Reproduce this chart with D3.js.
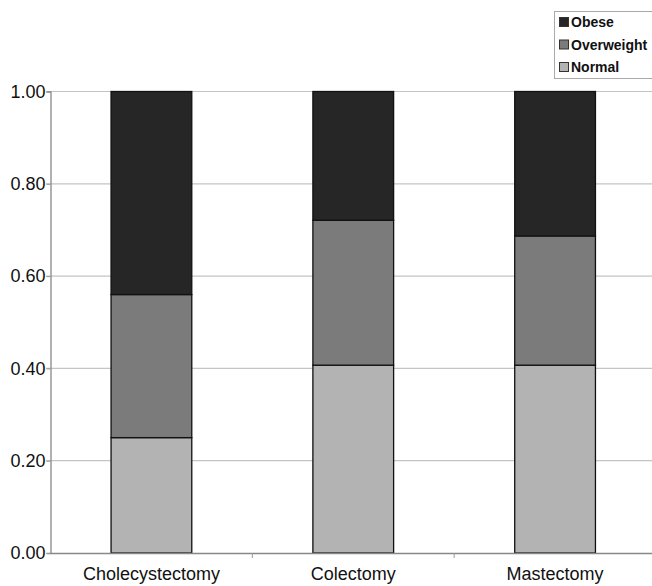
<!DOCTYPE html>
<html><head><meta charset="utf-8">
<script src="https://cdn.jsdelivr.net/npm/d3@7"></script>
<style>body{margin:0;background:#fff}svg{display:block}</style>
</head><body>
<script>
const categories = ["Cholecystectomy","Colectomy","Mastectomy"];
const seriesNames = ["Normal","Overweight","Obese"];
const normal = [0.25, 0.407, 0.407];
const overweight = [0.31, 0.314, 0.28];
const obese = [0.44, 0.279, 0.313];
const yTicks = [0, 0.2, 0.4, 0.6, 0.8, 1.0];
const colors = {Normal:"#b3b3b3", Overweight:"#7b7b7b", Obese:"#262626"};

const W = 652, H = 586;
const svg = d3.select("body").append("svg").attr("width", W).attr("height", H);
const x = d3.scaleBand().domain(categories).range([50.5, 656]).paddingInner(0).paddingOuter(0);
const y = d3.scaleLinear().domain([0, 1]).range([553, 91.5]);

// gridlines
svg.append("g").selectAll("line").data(yTicks.filter(d => d > 0)).join("line")
  .attr("x1", 46).attr("x2", W).attr("y1", d => y(d)).attr("y2", d => y(d))
  .attr("stroke", "#c4c4c4").attr("stroke-width", 1.2);

// stack
const rows = categories.map((c, i) => ({cat: c, Normal: normal[i], Overweight: overweight[i], Obese: obese[i]}));
const stack = d3.stack().keys(seriesNames)(rows);
const bw = x.bandwidth() * 0.4;
svg.append("g").selectAll("g").data(stack).join("g")
  .attr("fill", d => colors[d.key])
  .selectAll("rect").data(d => d).join("rect")
  .attr("x", d => x(d.data.cat) + (x.bandwidth() - bw) / 2)
  .attr("width", bw)
  .attr("y", d => y(d[1]))
  .attr("height", d => y(d[0]) - y(d[1]))
  .attr("stroke", "#111").attr("stroke-width", 1.3);

// y axis
const yAxis = svg.append("g").attr("transform", "translate(50.5,0)")
  .call(d3.axisLeft(y).tickValues(yTicks).tickFormat(d3.format(".2f")).tickSize(4).tickPadding(1));
yAxis.select(".domain").attr("stroke", "#888").attr("stroke-width", 1.3);
yAxis.selectAll(".tick line").attr("stroke", "#999");
yAxis.selectAll("text").attr("font-family", "Liberation Sans, Arial, sans-serif").attr("font-size", 18).attr("fill", "#111");

// x axis
const xAxis = svg.append("g").attr("transform", "translate(0,553)")
  .call(d3.axisBottom(x).tickSize(0).tickPadding(14));
xAxis.select(".domain").attr("stroke", "#888").attr("stroke-width", 1.3);
xAxis.selectAll("text").attr("font-family", "Liberation Sans, Arial, sans-serif").attr("font-size", 18).attr("fill", "#111");
// boundary tick marks between categories
svg.append("g").selectAll("line").data(categories.slice(1)).join("line")
  .attr("x1", d => x(d)).attr("x2", d => x(d)).attr("y1", 553).attr("y2", 558)
  .attr("stroke", "#999");

// legend
const lg = svg.append("g");
lg.append("rect").attr("x", 554.5).attr("y", 11.5).attr("width", 110).attr("height", 67)
  .attr("fill", "#fff").attr("stroke", "#aaa");
const legendOrder = ["Obese","Overweight","Normal"];
const ly = d3.scalePoint().domain(legendOrder).range([22, 67]);
legendOrder.forEach(k => {
  lg.append("rect").attr("x", 559.5).attr("y", ly(k) - 4.5).attr("width", 9).attr("height", 9)
    .attr("fill", colors[k]).attr("stroke", "#333").attr("stroke-width", 1);
  lg.append("text").attr("x", 571).attr("y", ly(k) + 5).text(k)
    .attr("font-family", "Liberation Sans, Arial, sans-serif").attr("font-weight", "bold")
    .attr("font-size", 14).attr("fill", "#111");
});
</script>
</body></html>
